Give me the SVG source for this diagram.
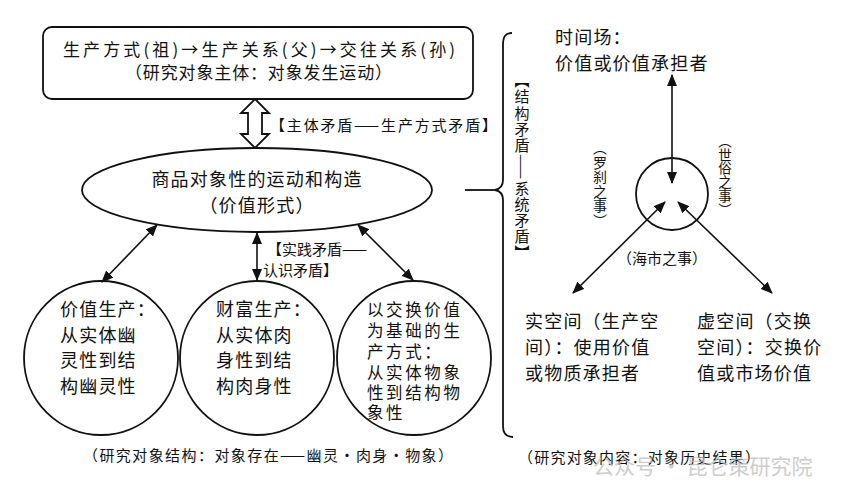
<svg xmlns="http://www.w3.org/2000/svg" width="854" height="496" viewBox="0 0 854 496">
<defs>
<marker id="ah" viewBox="0 0 12 10" refX="11" refY="5" markerWidth="12" markerHeight="10" markerUnits="userSpaceOnUse" orient="auto-start-reverse">
<path d="M0,0 L12,5 L0,10 Z" fill="#111"/>
</marker>
<style>
text{font-family:"Noto Sans CJK SC","Noto Sans",sans-serif;fill:#111}
.shape{fill:none;stroke:#111;stroke-width:1.8}
.ln{fill:none;stroke:#111;stroke-width:1.8}
.arr{fill:none;stroke:#111;stroke-width:1.6;marker-start:url(#ah);marker-end:url(#ah)}
.t18{font-size:18px;letter-spacing:1.2px}
.t17{font-size:17px}
.t16{font-size:16.5px;letter-spacing:2.6px}
.t15{font-size:15px}
.vt{writing-mode:vertical-rl}
.wm{font-size:21px;fill:#bdbdbd;opacity:0.75}
</style>
</defs>
<rect width="854" height="496" fill="#fff"/>

<g id="connectors">
<polygon points="255,99 269,113 262,113 262,134 269,134 255,148 241,134 248,134 248,113 241,113" fill="#fff" stroke="#111" stroke-width="1.8"/>
<line class="arr" x1="157" y1="225" x2="102" y2="282"/>
<line class="arr" x1="257" y1="233" x2="257" y2="280"/>
<line class="arr" x1="358" y1="225" x2="413" y2="280"/>
<path class="ln" d="M465,190 L495,190"/>
<path class="ln" d="M512,33 C505,33 503,37 503,45 L503,180 C503,186 500,189 495,190 C500,191 503,194 503,200 L503,426 C503,433 506,437 513,437"/>
<line class="arr" x1="672" y1="75" x2="672" y2="183"/>
<line class="arr" x1="665" y1="202" x2="573" y2="293"/>
<line class="arr" x1="678" y1="202" x2="772" y2="293"/>
</g>

<g id="top-box">
<rect class="shape" x="43" y="27" width="430" height="72" rx="9"/>
<text class="t17" x="63" y="56" textLength="392" lengthAdjust="spacing">生产方式(祖)→生产关系(父)→交往关系(孙)</text>
<text class="t17" x="125" y="79" textLength="267" lengthAdjust="spacing">（研究对象主体：对象发生运动）</text>
</g>

<g id="label-main">
<text class="t15" x="270" y="131" textLength="227" lengthAdjust="spacing">【主体矛盾——生产方式矛盾】</text>
</g>

<g id="ellipse">
<ellipse class="shape" cx="257" cy="190" rx="175" ry="42"/>
<text class="t18" x="257" y="186" text-anchor="middle">商品对象性的运动和构造</text>
<text class="t18" x="257" y="212" text-anchor="middle">（价值形式）</text>
</g>

<g id="label-practice">
<text class="t15" x="267" y="255">【实践矛盾——</text>
<text class="t15" x="263" y="276">认识矛盾】</text>
</g>

<g id="circle-value">
<circle class="shape" cx="101" cy="358" r="77"/>
<text class="t18" x="60" y="316">价值生产：</text>
<text class="t18" x="60" y="342">从实体幽</text>
<text class="t18" x="60" y="367">灵性到结</text>
<text class="t18" x="60" y="393">构幽灵性</text>
</g>

<g id="circle-wealth">
<circle class="shape" cx="257" cy="358" r="77"/>
<text class="t18" x="216" y="316">财富生产：</text>
<text class="t18" x="216" y="342">从实体肉</text>
<text class="t18" x="216" y="367">身性到结</text>
<text class="t18" x="216" y="393">构肉身性</text>
</g>

<g id="circle-exchange">
<circle class="shape" cx="414" cy="358" r="77"/>
<text class="t16" x="367" y="316">以交换价值</text>
<text class="t16" x="367" y="337">为基础的生</text>
<text class="t16" x="367" y="358">产方式：</text>
<text class="t16" x="367" y="379">从实体物象</text>
<text class="t16" x="367" y="399">性到结构物</text>
<text class="t16" x="367" y="419">象性</text>
</g>

<g id="caption-left">
<text class="t15" x="83" y="461" textLength="370" lengthAdjust="spacing">（研究对象结构：对象存在——幽灵・肉身・物象）</text>
</g>

<g id="label-structure">
<text class="vt" x="522" y="73" style="font-size:15px;letter-spacing:1.2px">【结构矛盾——系统矛盾】</text>
</g>

<g id="time-field">
<text class="t18" x="555" y="44">时间场：</text>
<text class="t18" x="555" y="70">价值或价值承担者</text>
</g>

<g id="center-circle">
<circle class="shape" cx="672" cy="194" r="36"/>
</g>

<g id="labels-events">
<text class="vt" x="600" y="141" style="font-size:14px;letter-spacing:0.5px">（罗刹之事）</text>
<text class="vt" x="725" y="134" style="font-size:13.5px;letter-spacing:0.3px">（世俗之事）</text>
<text class="t15" x="662" y="264" text-anchor="middle">（海市之事）</text>
</g>

<g id="real-space">
<text class="t18" x="525" y="328">实空间（生产空</text>
<text class="t18" x="525" y="354">间）：使用价值</text>
<text class="t18" x="525" y="380">或物质承担者</text>
</g>

<g id="virtual-space">
<text class="t18" x="697" y="328">虚空间（交换</text>
<text class="t18" x="697" y="354">空间）：交换价</text>
<text class="t18" x="697" y="380">值或市场价值</text>
</g>

<g id="caption-right">
<text class="t15" x="518" y="463" textLength="242" lengthAdjust="spacing">（研究对象内容：对象历史结果）</text>
</g>

<g id="watermark">
<text class="wm" x="593" y="474">公众号 · 昆仑策研究院</text>
</g>
</svg>
